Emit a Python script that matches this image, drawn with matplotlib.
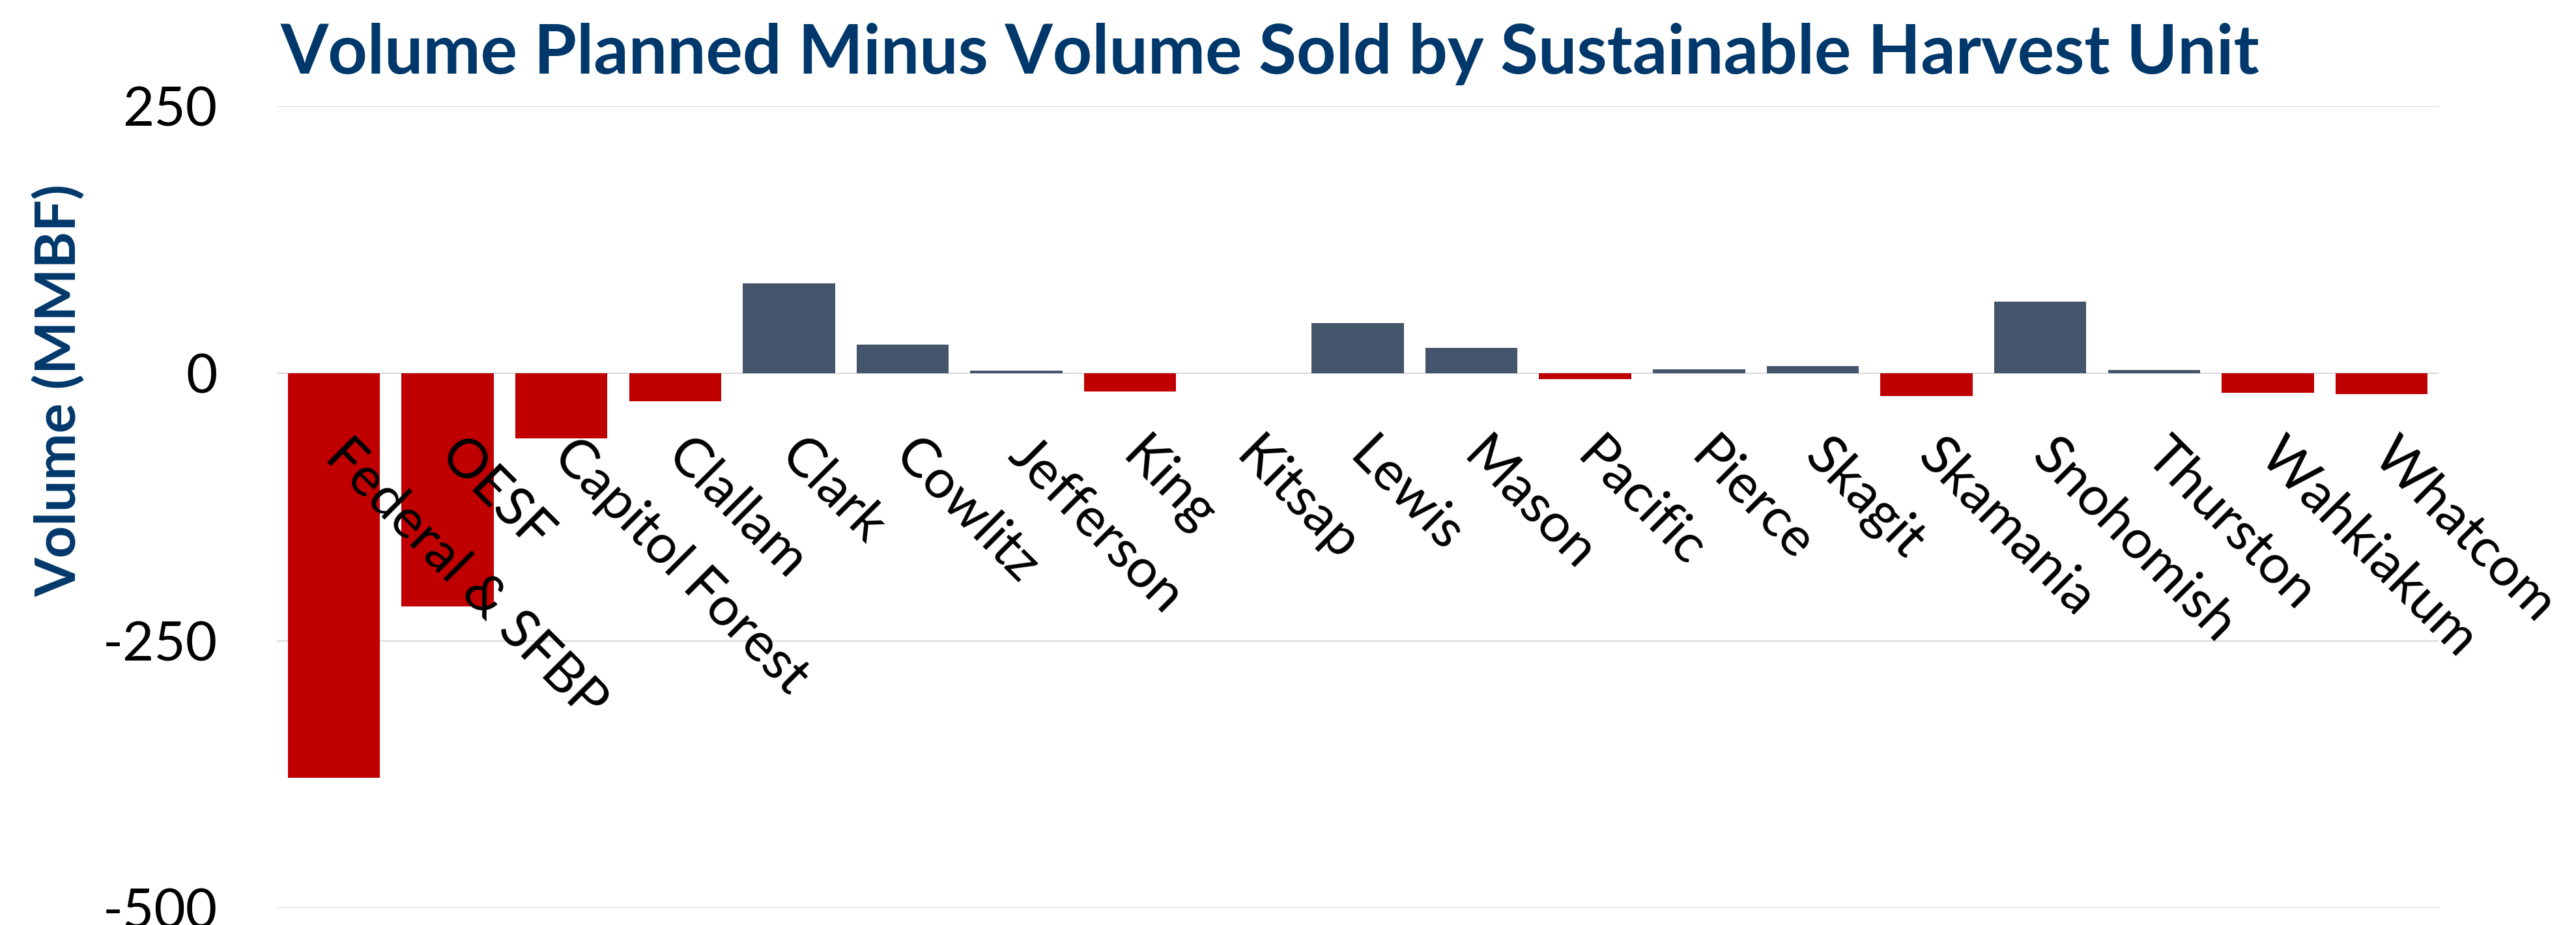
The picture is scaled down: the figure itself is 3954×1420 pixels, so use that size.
import matplotlib.pyplot as plt
import numpy as np

## -- chart data
units = ['Federal & SFBP', 'OESF', 'Capitol Forest', 'Clallam', 'Clark', 'Cowlitz',
         'Jefferson', 'King', 'Kitsap', 'Lewis', 'Mason', 'Pacific', 'Pierce',
         'Skagit', 'Skamania', 'Snohomish', 'Thurston', 'Wahkiakum', 'Whatcom']
diff_mmbf = [-378, -218, -61, -26, 84, 27, 2.5, -17, 0, 47, 24, -5, 3.7,
             6.7, -21, 67, 3, -18, -19.5]
y_ticks = [-500, -250, 0, 250]

RED = '#C00000'
SLATE = '#44546A'
NAVY = '#00386B'
GRID = '#D9D9D9'
FONT = 'Lato'

fig = plt.figure(figsize=(39.54, 14.2), dpi=100)
ax = fig.add_axes([0.1075, 1 - 1394 / 1420, 0.9466 - 0.1075, (1394 - 163) / 1420])

x = np.arange(len(units))
vals = np.array(diff_mmbf)
colors = [RED if v < 0 else SLATE for v in vals]
ax.bar(x, vals, width=0.81, color=colors, zorder=2)

ax.set_xlim(-0.5, len(units) - 0.5)
ax.set_ylim(y_ticks[0], y_ticks[-1])
ax.set_yticks(y_ticks)
ax.set_yticklabels([str(t) for t in y_ticks], fontsize=60, family=FONT)
ax.yaxis.grid(True, color=GRID, lw=1.5)
ax.tick_params(axis='y', length=0, pad=66)

## -- category labels hang just under the zero line, drawn over the bars
ax.spines['bottom'].set_position(('data', 0))
for s in ax.spines.values():
    s.set_visible(False)
ax.set_xticks(x)
ax.set_xticklabels(units, fontsize=60, family=FONT, rotation=-45,
                   ha='left', va='center', rotation_mode='anchor')
ax.tick_params(axis='x', length=0, pad=82)
ax.yaxis.set_zorder(0.5)   # grid under bars
ax.xaxis.set_zorder(3)     # labels over bars

fig.text(0.109, 1 - 113 / 1420, 'Volume Planned Minus Volume Sold by Sustainable Harvest Unit',
         fontsize=76, fontweight='bold', family=FONT, color=NAVY, va='baseline', ha='left')
fig.text(0.023, 1 - 599 / 1420, 'Volume (MMBF)', fontsize=62, fontweight='bold',
         family=FONT, color=NAVY, rotation=90, ha='center', va='center')

fig.savefig('out.png', dpi=100, facecolor='white')
